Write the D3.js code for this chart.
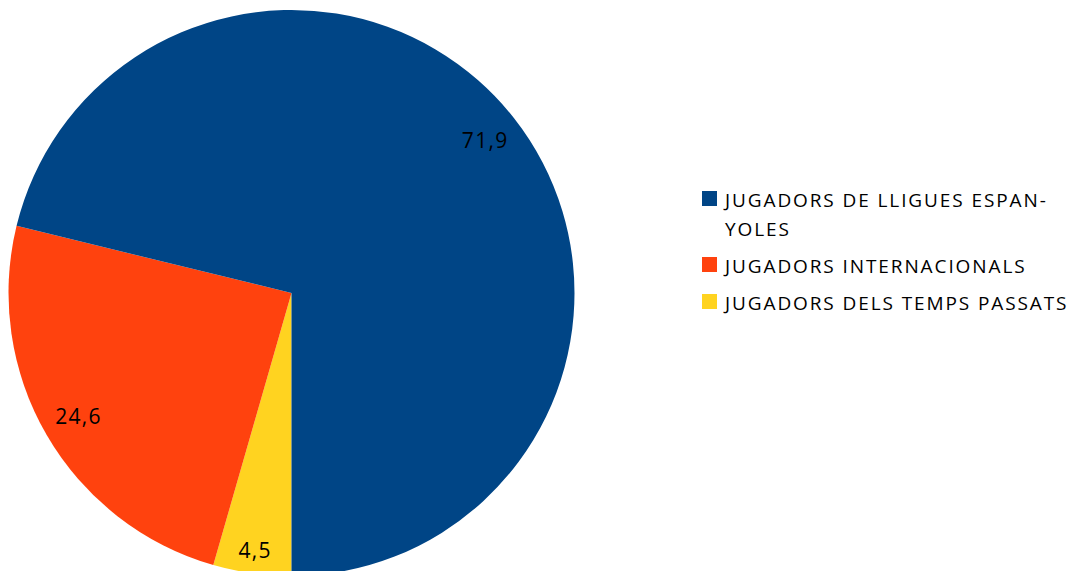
<!DOCTYPE html>
<html><head><meta charset="utf-8">
<script src="https://cdn.jsdelivr.net/npm/d3@7"></script>
<style>body{margin:0;background:#fff}svg{display:block}text{font-family:"Open Sans",sans-serif}</style>
</head><body>
<svg id="c" width="1082" height="571"></svg>
<script>
const categories = ["JUGADORS DE LLIGUES ESPANYOLES", "JUGADORS INTERNACIONALS", "JUGADORS DELS TEMPS PASSATS"];
const legendLines = [["JUGADORS DE LLIGUES ESPAN-", "YOLES"], ["JUGADORS INTERNACIONALS"], ["JUGADORS DELS TEMPS PASSATS"]];
const values = [71.9, 24.6, 4.5];
const valueLabels = ["71,9", "24,6", "4,5"];
const colors = ["#004586", "#ff420e", "#ffd320"];

const svg = d3.select("#c");
const cx = 291.5, cy = 293, R = 283;
const g = svg.append("g").attr("transform", `translate(${cx},${cy})`);

const order = [2, 1, 0];
const pie = d3.pie().sort(null).value(i => values[i])
  .startAngle(Math.PI).endAngle(3 * Math.PI);
const arcs = pie(order);
const arc = d3.arc().innerRadius(0).outerRadius(R);
g.selectAll("path").data(arcs).join("path")
  .attr("d", arc).attr("fill", d => colors[d.data]);

const labelR = [0.87, 0.87, 0.92];
g.selectAll("text.lbl").data(arcs).join("text").attr("class", "lbl")
  .attr("transform", d => {
    const r = R * labelR[d.data];
    const c = d3.arc().innerRadius(r).outerRadius(r).centroid(d);
    return `translate(${c[0]},${c[1]})`;
  })
  .attr("text-anchor", "middle").attr("dy", "0.35em")
  .attr("font-size", 21).attr("letter-spacing", 1.3).attr("fill", "#000")
  .text(d => valueLabels[d.data]);

const lg = svg.append("g");
const rowsY = [207, 273, 310];
categories.forEach((c, i) => {
  lg.append("rect").attr("x", 702).attr("y", rowsY[i] - 16).attr("width", 15).attr("height", 15).attr("fill", colors[i]);
  legendLines[i].forEach((t, j) => {
    lg.append("text").attr("x", 725).attr("y", rowsY[i] + j * 29)
      .attr("font-size", 19).attr("letter-spacing", 1.9).attr("fill", "#000").text(t);
  });
});
</script>
</body></html>
